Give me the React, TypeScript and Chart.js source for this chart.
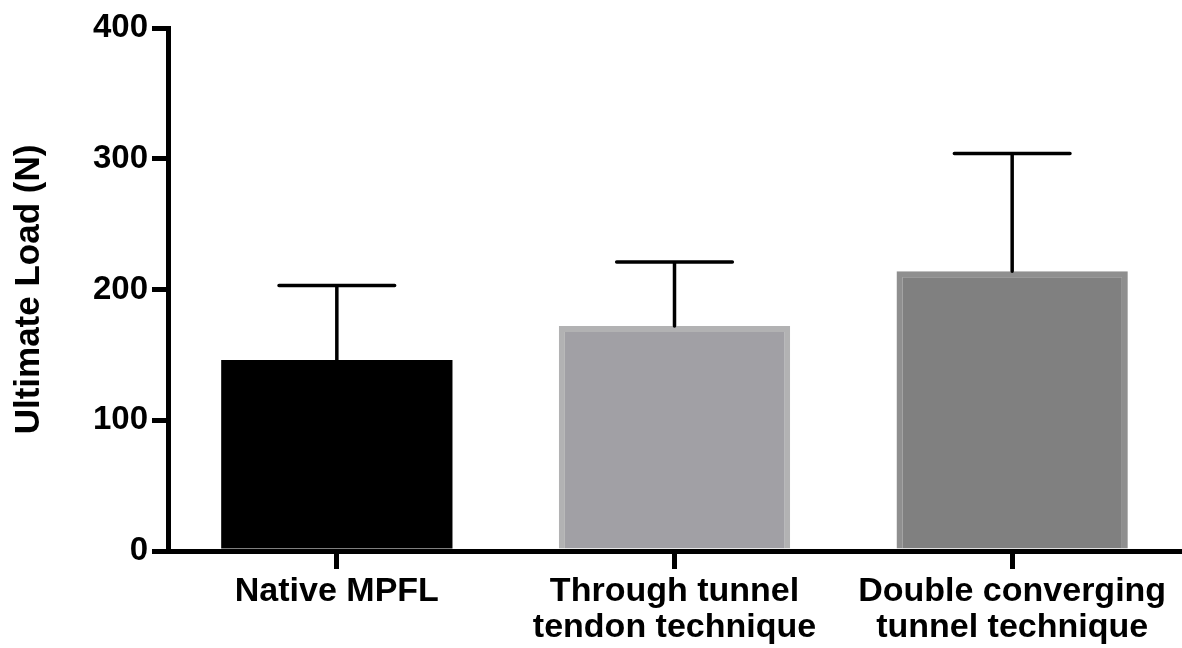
import React, { useEffect, useRef } from "react";
import { Chart, registerables } from "chart.js";

Chart.register(...registerables);

const categories: (string | string[])[] = [
  "Native MPFL",
  ["Through tunnel", "tendon technique"],
  ["Double converging", "tunnel technique"],
];
const meanValues = [146, 172, 214];
const sdValues = [57, 49, 90];
const fillColors = ["#000000", "#a1a0a5", "#808080"];
const borderColors = ["#000000", "#b2b2b3", "#8f8f8f"];
const borderWidths = [0, 6, 6];
const yTicks = [0, 100, 200, 300, 400];
const yTitle = "Ultimate Load (N)";

const FONT = '"Liberation Sans", Arial, Helvetica, sans-serif';

const errorBarPlugin = {
  id: "errorBars",
  afterDatasetsDraw(chart: any) {
    const meta = chart.getDatasetMeta(0);
    const yScale = chart.scales.y;
    const ctx = chart.ctx;
    ctx.save();
    ctx.strokeStyle = "#000000";
    ctx.lineWidth = 3.5;
    ctx.lineCap = "round";
    meta.data.forEach((el: any, i: number) => {
      const yBase = yScale.getPixelForValue(meanValues[i]);
      const yTop = yScale.getPixelForValue(meanValues[i] + sdValues[i]);
      const half = el.width / 4;
      ctx.beginPath();
      ctx.moveTo(el.x, yBase);
      ctx.lineTo(el.x, yTop);
      ctx.moveTo(el.x - half, yTop);
      ctx.lineTo(el.x + half, yTop);
      ctx.stroke();
    });
    ctx.restore();
  },
};

export default function App() {
  const ref = useRef<HTMLCanvasElement | null>(null);
  useEffect(() => {
    if (!ref.current) return;
    const chart = new Chart(ref.current, {
      type: "bar",
      data: {
        labels: categories,
        datasets: [
          {
            data: meanValues,
            backgroundColor: fillColors,
            borderColor: borderColors,
            borderWidth: borderWidths,
            borderSkipped: "bottom",
            categoryPercentage: 1,
            barPercentage: 0.685,
          },
        ],
      },
      options: {
        responsive: false,
        animation: false,
        layout: { padding: { top: 28, right: 1, left: 0, bottom: 0 } },
        plugins: { legend: { display: false }, tooltip: { enabled: false } },
        scales: {
          x: {
            grid: {
              display: true,
              offset: false,
              drawOnChartArea: false,
              drawTicks: true,
              tickLength: 18,
              tickWidth: 5,
              tickColor: "#000000",
              color: "#000000",
              lineWidth: 5,
            },
            border: { display: true, width: 5, color: "#000000" },
            ticks: {
              color: "#000000",
              padding: 4,
              maxRotation: 0,
              font: { family: FONT, size: 34, weight: "bold", lineHeight: 1.07 },
            },
            afterFit: (scale: any) => {
              scale.height = 97;
            },
          },
          y: {
            min: 0,
            max: 400,
            afterBuildTicks: (scale: any) => {
              scale.ticks = yTicks.map((v) => ({ value: v }));
            },
            grid: {
              display: true,
              drawOnChartArea: false,
              drawTicks: true,
              tickLength: 16,
              tickWidth: 5,
              tickColor: "#000000",
              color: "#000000",
              lineWidth: 5,
            },
            border: { display: true, width: 5, color: "#000000" },
            ticks: {
              color: "#000000",
              padding: 4,
              font: { family: FONT, size: 33, weight: "bold" },
            },
            title: {
              display: true,
              text: yTitle,
              color: "#000000",
              padding: { top: 8, bottom: 0 },
              font: { family: FONT, size: 35, weight: "bold", lineHeight: 1.2 },
            },
            afterFit: (scale: any) => {
              scale.width = 168;
            },
          },
        },
      },
      plugins: [errorBarPlugin],
    });
    return () => chart.destroy();
  }, []);
  return (
    <div style={{ position: "fixed", left: 0, top: 0, width: 1182, height: 648, background: "#ffffff" }}>
      <canvas ref={ref} width={1182} height={648} />
    </div>
  );
}
